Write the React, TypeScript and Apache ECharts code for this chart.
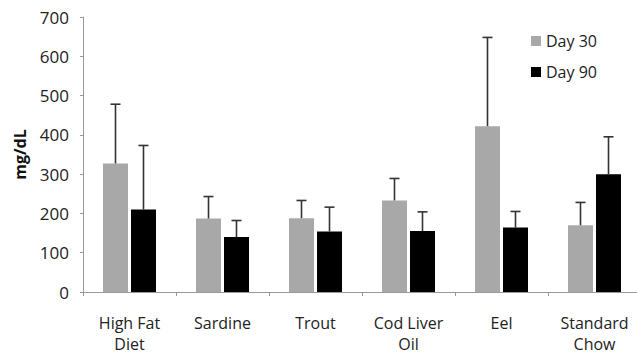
import React, { useEffect, useRef } from "react";
import * as echarts from "echarts";

const categories = ["High Fat\nDiet", "Sardine", "Trout", "Cod Liver\nOil", "Eel", "Standard\nChow"];
const day30 = [327, 187, 188, 233, 422, 170];
const day30Err = [151, 56, 45, 56, 226, 58];
const day90 = [210, 140, 154, 155, 164, 300];
const day90Err = [163, 42, 62, 49, 41, 95];
const yTicks = { min: 0, max: 700, interval: 100 };

const FONT = "'Open Sans', 'Noto Sans', sans-serif";
const BAR_W = 25;
const GAP = 3;

function errorSeries(name: string, values: number[], errs: number[], offset: number) {
  return {
    type: "custom",
    name: name + " err",
    z: 5,
    silent: true,
    data: values.map((v, i) => [i, v, v + errs[i]]),
    renderItem: (params: any, api: any) => {
      const i = api.value(0);
      const base = api.coord([i, api.value(1)]);
      const top = api.coord([i, api.value(2)]);
      const x = base[0] + offset;
      const style = { stroke: "#333", lineWidth: 1.6 };
      return {
        type: "group",
        children: [
          { type: "line", shape: { x1: x, y1: base[1], x2: x, y2: top[1] }, style },
          { type: "line", shape: { x1: x - 5, y1: top[1], x2: x + 5, y2: top[1] }, style },
        ],
      };
    },
  };
}

export default function App() {
  const ref = useRef<HTMLDivElement>(null);
  useEffect(() => {
    if (!ref.current) return;
    const chart = echarts.init(ref.current, null, { renderer: "svg" });
    const half = (BAR_W + GAP) / 2;
    chart.setOption({
      animation: false,
      backgroundColor: "#fff",
      textStyle: { fontFamily: FONT },
      grid: { left: 83, right: -4, top: 17, bottom: 62, containLabel: false, outerBoundsMode: "none" },
      legend: {
        orient: "vertical",
        left: 526,
        top: 28,
        itemWidth: 10,
        itemHeight: 10,
        itemGap: 15,
        icon: "rect",
        data: ["Day 30", "Day 90"],
        textStyle: { fontFamily: FONT, fontSize: 16, color: "#222" },
      },
      xAxis: {
        type: "category",
        data: categories,
        axisLine: { lineStyle: { color: "#999", width: 1 } },
        axisTick: { show: true, length: 4, lineStyle: { color: "#999" } },
        axisLabel: { fontFamily: FONT, fontSize: 16, color: "#222", margin: 20, lineHeight: 21, interval: 0 },
      },
      yAxis: {
        type: "value",
        min: yTicks.min,
        max: yTicks.max,
        interval: yTicks.interval,
        name: "mg/dL",
        nameLocation: "middle",
        nameGap: 55,
        nameRotate: 90,
        nameTextStyle: { fontFamily: FONT, fontSize: 16, fontWeight: "bold", color: "#111" },
        splitLine: { show: false },
        axisLine: { show: true, lineStyle: { color: "#999", width: 1 } },
        axisTick: { show: true, length: 3, lineStyle: { color: "#999" } },
        axisLabel: { fontFamily: FONT, fontSize: 17, color: "#222", margin: 14 },
      },
      series: [
        {
          type: "bar",
          name: "Day 30",
          data: day30,
          barWidth: BAR_W,
          barGap: (GAP / BAR_W) * 100 + "%",
          itemStyle: { color: "#a8a8a8" },
        },
        {
          type: "bar",
          name: "Day 90",
          data: day90,
          barWidth: BAR_W,
          itemStyle: { color: "#000" },
        },
        errorSeries("Day 30", day30, day30Err, -half),
        errorSeries("Day 90", day90, day90Err, half),
      ],
    });
    return () => chart.dispose();
  }, []);
  return <div ref={ref} style={{ position: "fixed", left: 0, top: 0, width: 637, height: 354 }} />;
}
